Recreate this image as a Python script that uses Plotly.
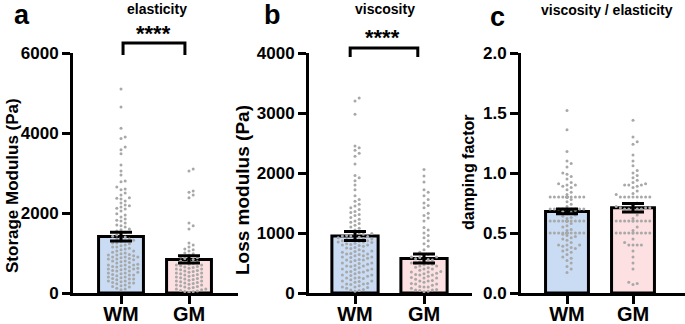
import plotly.graph_objects as go

# ---------------- data ----------------
groups = ["WM", "GM"]

# panel a: storage modulus (Pa)
storage_wm = [5100, 4650, 4120, 3900, 3860, 3650, 3580, 3480, 3200, 3050, 2950, 2800, 2780, 2650, 2600,
              2580, 2500, 2450, 2380, 2370, 2350, 2300, 2250, 2200, 2180, 2150, 2120, 2100, 2050, 1980,
              1950, 1900, 1850, 1820, 1800, 1750, 1700, 1680, 1650, 1600, 1580, 1550, 1520,
              1480, 1450, 1420, 1400, 1380, 1350, 1320, 1300, 1280, 1250, 1230, 1200, 1180, 1150, 1120,
              1100, 1080, 1050, 1020, 1000, 980, 960, 950, 930, 900, 880, 860, 850, 830, 800, 780, 760,
              750, 720, 700, 680, 660, 650, 620, 600, 580, 560, 550, 520, 500, 480, 460, 450, 430, 400,
              380, 360, 350, 330, 300, 280, 260, 250, 230, 200, 180, 160, 150, 120, 100, 80,
              950, 900, 850, 800, 700, 650, 600, 550, 500, 450, 400, 350, 300, 250, 1050, 1150, 1250,
              1350, 900, 700, 600]
storage_gm = [3100, 3050, 2550, 2520, 2450, 2380, 1750, 1680, 1600, 1250, 1200, 1150, 1100, 1080, 1050,
              1000, 980, 950, 900, 880, 860, 840, 820, 800, 780, 760, 740, 720, 700, 680, 660, 640, 620,
              600, 580, 560, 540, 520, 500, 480, 460, 440, 420, 400, 380, 360, 340, 320, 300, 280, 260,
              240, 220, 200, 180, 160, 140, 120, 100, 80, 60, 40, 30, 20, 650, 550, 450, 350, 250, 150,
              700, 600, 500, 400, 300, 200, 100, 50]
storage_mean = [1410, 840]
storage_sem = [110, 90]

# panel b: loss modulus (Pa)
loss_wm = [3250, 3200, 2980, 2450, 2420, 2380, 2330, 2280, 2150, 1960, 1920, 1870, 1800, 1720, 1620,
           1560, 1530, 1480, 1450, 1420, 1390, 1360, 1340, 1310, 1290, 1260, 1230, 1200, 1180, 1160,
           1130, 1100, 1080, 1050, 1030, 1000,
           990, 980, 970, 960, 950, 940, 930, 920, 910, 900, 890, 880, 870, 860, 850, 840, 830, 820,
           810, 800, 790, 780, 760, 740, 720, 700, 690, 680, 660, 650, 640, 620, 600, 590, 580, 560,
           550, 540, 520, 500, 490, 480, 460, 450, 440, 420, 400, 390, 380, 360, 350, 340, 320, 300,
           290, 280, 260, 250, 240, 220, 200, 190, 180, 160, 150, 140, 120, 100, 90, 80, 60, 50, 40,
           30, 950, 900, 850, 800, 750, 700, 650, 600, 550, 500, 450, 400, 350, 300, 250, 200, 150,
           100, 870, 620]
loss_gm = [2060, 1950, 1850, 1720, 1680, 1620, 1560, 1500, 1460, 1420, 1330, 1290, 1250, 1200, 1090,
           1050, 1000, 960, 920, 870, 820, 780, 720, 680,
           650, 640, 620, 600, 590, 570, 560, 540, 520, 500, 490, 470, 450, 430, 420, 400, 380, 360,
           350, 330, 310, 300, 280, 260, 250, 230, 210, 200, 180, 160, 150, 130, 110, 100, 80, 60, 50,
           40, 30, 20, 600, 550, 500, 450, 400, 350, 300, 250, 200, 150, 100, 50, 480, 320]
loss_mean = [950, 575]
loss_sem = [75, 75]

# panel c: damping factor
damp_wm = [1.52, 1.36, 1.18, 1.10, 1.08, 1.05, 1.00, 0.99, 0.97, 0.95, 0.92, 0.91, 0.90, 0.90, 0.89,
           0.88, 0.86, 0.84, 0.82,
           0.80, 0.80, 0.80, 0.80, 0.80, 0.80, 0.80, 0.80, 0.80, 0.80, 0.80, 0.80, 0.80, 0.80, 0.80,
           0.80, 0.80, 0.80,
           0.78, 0.76, 0.74, 0.72,
           0.70, 0.70, 0.70, 0.70, 0.70, 0.70, 0.70, 0.70, 0.70, 0.70, 0.70, 0.70, 0.70, 0.70, 0.70,
           0.70, 0.70, 0.70,
           0.69, 0.68, 0.67, 0.66, 0.65, 0.64, 0.63, 0.62,
           0.60, 0.60, 0.60, 0.60, 0.60, 0.60, 0.60, 0.60, 0.60, 0.60, 0.60, 0.60, 0.60, 0.60, 0.60,
           0.60, 0.60, 0.60,
           0.58, 0.56, 0.55, 0.53, 0.52,
           0.50, 0.50, 0.50, 0.50, 0.50, 0.50, 0.50, 0.50, 0.50, 0.50, 0.50, 0.50, 0.50, 0.50, 0.50,
           0.50,
           0.49, 0.48, 0.47, 0.46, 0.45, 0.44, 0.42, 0.40, 0.40, 0.40, 0.39, 0.38, 0.37, 0.36, 0.35,
           0.34, 0.32, 0.30, 0.29, 0.27, 0.25, 0.22, 0.20, 0.17]
damp_gm = [1.44, 1.30, 1.26, 1.24, 1.15, 1.10, 1.06, 1.02, 1.00, 0.98, 0.96, 0.94,
           0.92, 0.91, 0.90, 0.90, 0.90, 0.89, 0.88, 0.85, 0.83, 0.82,
           0.80, 0.80, 0.80, 0.80, 0.80, 0.80, 0.80, 0.80,
           0.75, 0.73, 0.72, 0.71, 0.71, 0.71, 0.70, 0.70, 0.70, 0.70, 0.70,
           0.65, 0.62,
           0.60, 0.60, 0.60, 0.60, 0.60, 0.60, 0.60, 0.60, 0.60, 0.60,
           0.55, 0.52,
           0.50, 0.50, 0.50, 0.50, 0.50, 0.50, 0.50, 0.50, 0.50, 0.50,
           0.45, 0.42,
           0.40, 0.40, 0.40, 0.40,
           0.35, 0.30, 0.25, 0.20, 0.09, 0.08, 0.07]
damp_mean = [0.68, 0.71]
damp_sem = [0.02, 0.035]

y_ticks_a = [0, 2000, 4000, 6000]
y_ticks_b = [0, 1000, 2000, 3000, 4000]
y_ticks_c = [0.0, 0.5, 1.0, 1.5, 2.0]
y_ticktext_c = ["0.0", "0.5", "1.0", "1.5", "2.0"]

# ---------------- style ----------------
W, H = 685, 324
FONT = "Liberation Sans, Arial, Helvetica, sans-serif"
BAR_COLORS = ["#c9dcf4", "#fde0e1"]
DOT = "#a8a8a8"
PLOT_TOP, PLOT_BOT = 53, 293   # px
PLOT_H = PLOT_BOT - PLOT_TOP

panels = [
    dict(wm=storage_wm, gm=storage_gm, mean=storage_mean, sem=storage_sem, ymax=6000,
         ticks=y_ticks_a, ticktext=[str(t) for t in y_ticks_a],
         x0=73, x1=238, c0=121, spacing=68, bw=0.66),
    dict(wm=loss_wm, gm=loss_gm, mean=loss_mean, sem=loss_sem, ymax=4000,
         ticks=y_ticks_b, ticktext=[str(t) for t in y_ticks_b],
         x0=309, x1=472, c0=355, spacing=69, bw=0.67),
    dict(wm=damp_wm, gm=damp_gm, mean=damp_mean, sem=damp_sem, ymax=2.0,
         ticks=y_ticks_c, ticktext=y_ticktext_c,
         x0=521, x1=685, c0=567, spacing=66, bw=0.65),
]


def swarm(vals, ppu_y, d=4.2, maxhalf=20.0):
    """deterministic beeswarm offsets (px) for values"""
    order = sorted(range(len(vals)), key=lambda i: vals[i])
    placed = []
    offs = [0.0] * len(vals)
    cands = [0.0]
    k = 1
    while k * d <= maxhalf:
        cands += [k * d, -k * d]
        k += 1
    for i in order:
        y = vals[i] * ppu_y
        near = [(px, py) for px, py in placed if abs(py - y) < d]
        best, bestscore = None, -1
        for c in cands:
            md = min([((c - px) ** 2 + (y - py) ** 2) ** 0.5 for px, py in near] or [99])
            if md >= d * 0.95:
                best = c
                break
            if md > bestscore:
                bestscore, best = md, c
        placed.append((best, y))
        offs[i] = best
    return offs


fig = go.Figure()
layout_axes = {}
for k, p in enumerate(panels):
    n = "" if k == 0 else str(k + 1)
    xa, ya = "x" + n, "y" + n
    ppu_y = PLOT_H / p["ymax"]
    fig.add_trace(go.Bar(x=[0, 1], y=p["mean"], width=p["bw"], xaxis=xa, yaxis=ya,
                         marker=dict(color=BAR_COLORS, line=dict(color="black", width=3)),
                         hoverinfo="skip"))
    for gi, vals in enumerate([p["wm"], p["gm"]]):
        offs = swarm(vals, ppu_y)
        fig.add_trace(go.Scatter(x=[gi + o / p["spacing"] for o in offs], y=vals, mode="markers",
                                 xaxis=xa, yaxis=ya, cliponaxis=False,
                                 marker=dict(color=DOT, size=3, line=dict(width=0))))
    fig.add_trace(go.Scatter(x=[0, 1], y=p["mean"], mode="markers", xaxis=xa, yaxis=ya,
                             marker=dict(size=1, color="rgba(0,0,0,0)"),
                             error_y=dict(type="data", array=p["sem"], color="black",
                                          thickness=3, width=11)))
    lo = -(p["c0"] - p["x0"]) / p["spacing"]
    hi = lo + (p["x1"] - p["x0"]) / p["spacing"]
    layout_axes["xaxis" + n] = dict(
        domain=[p["x0"] / W, p["x1"] / W], range=[lo, hi], anchor=ya, automargin=False,
        tickvals=[0, 1], ticktext=groups, showline=True, linewidth=3, linecolor="black",
        ticks="outside", ticklen=8, tickwidth=3, tickcolor="black", showgrid=False, zeroline=False,
        ticklabelstandoff=-7,
        tickfont=dict(family=FONT, size=20, color="black", weight="bold"), fixedrange=True)
    layout_axes["yaxis" + n] = dict(
        domain=[(H - PLOT_BOT) / H, (H - PLOT_TOP) / H], range=[0, p["ymax"]], anchor=xa,
        automargin=False,
        tickvals=p["ticks"], ticktext=p["ticktext"], showline=True, linewidth=3, linecolor="black",
        ticks="outside", ticklen=8, tickwidth=3, tickcolor="black", showgrid=False, zeroline=False,
        tickfont=dict(family=FONT, size=17, color="black", weight="bold"), fixedrange=True)


def ann(text, xpx, ypx, size, bold=True, angle=0, xref="paper"):
    return dict(text=text, x=xpx / W, y=(H - ypx) / H, xref=xref, yref="paper",
                showarrow=False, xanchor="center", yanchor="middle", textangle=angle,
                font=dict(family=FONT, size=size, color="black", weight="bold" if bold else "normal"))


annotations = [
    ann("a", 22, 15, 27), ann("b", 272, 15, 27), ann("c", 497, 17, 27),
    ann("elasticity", 157, 9, 14), ann("viscosity", 385, 9, 14),
    ann("viscosity / elasticity", 607, 10, 14),
    ann("****", 153, 33, 22), ann("****", 382, 38, 22),
    ann("Storage Modulus (Pa)", 12, 186, 17, angle=-90),
    ann("Loss modulus (Pa)", 243, 190, 19, angle=-90),
    ann("damping factor", 468, 172, 16, angle=-90),
]


def bracket(xref, x0, x1, ytop, ybot):
    yt, yb = (H - ytop) / H, (H - ybot) / H
    return dict(type="path", xref=xref, yref="paper",
                path=f"M {x0},{yb} L {x0},{yt} L {x1},{yt} L {x1},{yb}",
                line=dict(color="black", width=3))


shapes = [bracket("x", 0.03, 0.94, 43, 55), bracket("x2", -0.07, 0.91, 48, 57)]

fig.update_layout(width=W, height=H, margin=dict(l=0, r=0, t=0, b=0, autoexpand=False),
                  paper_bgcolor="white", plot_bgcolor="white", showlegend=False,
                  barmode="overlay", annotations=annotations, shapes=shapes,
                  font=dict(family=FONT, color="black"), **layout_axes)

fig.write_html("out.html", config={"displayModeBar": False},
               post_script="document.body.style.margin='0px';document.body.style.overflow='hidden';")
